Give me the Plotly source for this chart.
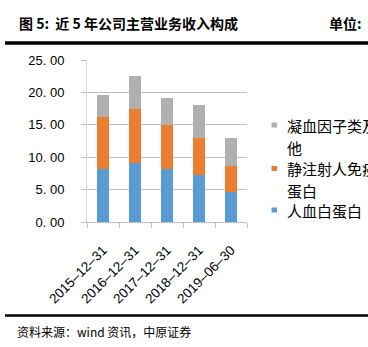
import plotly.graph_objects as go

# ---- data ----
categories = ["2015–12–31", "2016–12–31", "2017–12–31", "2018–12–31", "2019–06–30"]
albumin = [8.22, 9.06, 8.22, 7.20, 4.68]          # 人血白蛋白
ivig = [7.98, 8.44, 6.68, 5.80, 4.02]             # 静注射人免疫球蛋白
factor_other = [3.40, 5.10, 4.30, 5.05, 4.26]     # 凝血因子类及其他
series_names = ["人血白蛋白", "静注射人免疫球蛋白", "凝血因子类及其他"]
series_colors = ["#5B9BD5", "#ED7D31", "#B0B0B0"]
y_tickvals = [0, 5, 10, 15, 20, 25]
y_ticktext = ["0. 00", "5. 00", "10. 00", "15. 00", "20. 00", "25. 00"]

W, H = 368, 347
ML, MR, MT, MB = 87, 121, 60, 125
PW, PH = W - ML - MR, H - MT - MB

def px_x(px):
    return (px - ML) / PW

def px_y(py):
    return (H - MB - py) / PH

fig = go.Figure()
for vals, name, col in zip([albumin, ivig, factor_other], series_names, series_colors):
    fig.add_trace(go.Bar(x=categories, y=vals, name=name, marker_color=col,
                         marker_line_width=0, showlegend=False))

fig.update_layout(
    width=W, height=H,
    margin=dict(l=ML, r=MR, t=MT, b=MB),
    barmode="stack", bargap=0.6,
    plot_bgcolor="white", paper_bgcolor="white",
    font=dict(family="Arial, Liberation Sans, sans-serif", size=12, color="#000"),
)
fig.update_yaxes(range=[0, 25], tickvals=y_tickvals, ticktext=y_ticktext,
                 showgrid=True, gridcolor="#BFBFBF", gridwidth=1,
                 ticks="outside", ticklen=5, tickcolor="#BFBFBF",
                 showline=True, linecolor="#D9D9D9", linewidth=1,
                 ticklabelstandoff=14, tickfont=dict(size=13), zeroline=False)
fig.update_xaxes(type="category", tickangle=-45, ticks="outside", ticklen=5,
                 tickson="boundaries", tickcolor="#BFBFBF",
                 showline=True, linecolor="#BFBFBF", linewidth=1,
                 ticklabelstandoff=14,
                 tickfont=dict(size=13.5), showgrid=False)

cjk = "Noto Sans CJK SC"
ann = []
# title
ann.append(dict(text="<b>图 5:  近 5 年公司主营业务收入构成</b>", x=px_x(17), y=px_y(23),
                xref="paper", yref="paper", xanchor="left", yanchor="middle",
                showarrow=False, font=dict(family=cjk, size=14, color="#000")))
ann.append(dict(text="<b>单位:</b>", x=px_x(327), y=px_y(23),
                xref="paper", yref="paper", xanchor="left", yanchor="middle",
                showarrow=False, font=dict(family=cjk, size=14, color="#000")))
# footer
ann.append(dict(text="资料来源：wind 资讯，中原证券", x=px_x(15), y=px_y(331),
                xref="paper", yref="paper", xanchor="left", yanchor="middle",
                showarrow=False, font=dict(family=cjk, size=12, color="#000")))

# legend (reversed order); text runs past the right edge as in the source
legend_rows = [(series_names[2], series_colors[2], 125), (series_names[1], series_colors[1], 168.5),
               (series_names[0], series_colors[0], 210)]
shapes = []
for name, col, yc in legend_rows:
    lines = [name[i:i + 7] for i in range(0, len(name), 7)]
    for k, ln in enumerate(lines):
        ann.append(dict(text=ln, x=px_x(285), y=px_y(yc + k * 22),
                        xref="paper", yref="paper", xanchor="left", yanchor="middle",
                        showarrow=False, font=dict(family=cjk, size=15, color="#000")))
    shapes.append(dict(type="rect", xref="paper", yref="paper",
                       x0=px_x(271.5), x1=px_x(277), y0=px_y(yc - 2.5), y1=px_y(yc + 2.5),
                       fillcolor=col, line_width=0))

shapes.append(dict(type="line", xref="paper", yref="paper", x0=px_x(5), x1=px_x(368),
                   y0=px_y(43), y1=px_y(43), line=dict(color="#000", width=3.5)))
shapes.append(dict(type="line", xref="paper", yref="paper", x0=px_x(5), x1=px_x(368),
                   y0=px_y(315.5), y1=px_y(315.5), line=dict(color="#000", width=2.5)))

fig.update_layout(annotations=ann, shapes=shapes)
fig.write_html("out.html")
